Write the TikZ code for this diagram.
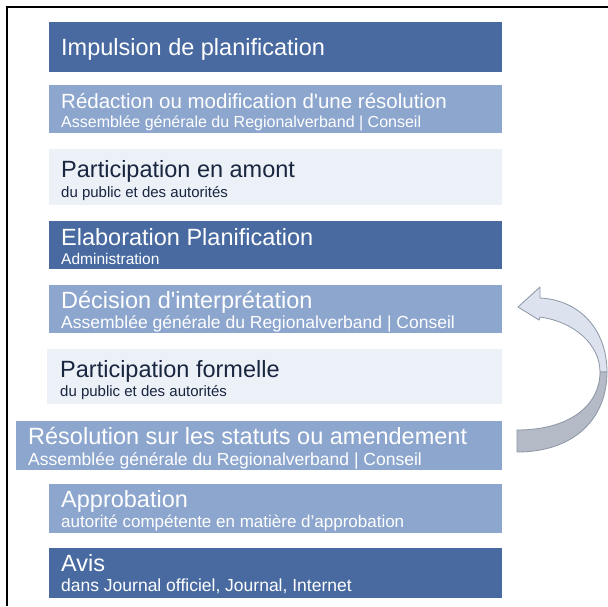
\documentclass[tikz,border=0pt]{standalone}
\usepackage{fontspec}
\setmainfont{Liberation Sans}[Ligatures=TeXOff]
\definecolor{dkblue}{RGB}{72,106,160}
\definecolor{mdblue}{RGB}{141,166,206}
\definecolor{ltblue}{RGB}{236,240,247}
\definecolor{navy}{RGB}{25,38,64}
\definecolor{arrlight}{RGB}{220,227,238}
\definecolor{arrdark}{RGB}{180,186,198}
\definecolor{arredge}{RGB}{140,150,165}
\begin{document}
\begin{tikzpicture}[x=1pt,y=-1pt,
  box/.style={anchor=north west,inner sep=0pt,outer sep=0pt,draw=none},
  dk/.style={box,fill=dkblue},
  md/.style={box,fill=mdblue},
  lt/.style={box,fill=ltblue},
  ttl/.style={anchor=base west,inner sep=0pt,font=\fontsize{23.5}{28}\selectfont},
  sub/.style={anchor=base west,inner sep=0pt,font=\fontsize{17}{20}\selectfont},
  wt/.style={text=white},
  nv/.style={text=navy}]
\useasboundingbox (0,0) rectangle (608,606);
\fill[white] (0,0) rectangle (608,606);
% frame
\draw[line width=2.5pt] (7,606) -- (7,7) -- (608,7);
% boxes
\node[dk,minimum width=453pt,minimum height=50pt] (b1) at (49,22) {};
\node[md,minimum width=453pt,minimum height=48pt] (b2) at (49,85) {};
\node[lt,minimum width=453pt,minimum height=56pt] (b3) at (49,149) {};
\node[dk,minimum width=453pt,minimum height=48pt] (b4) at (49,221) {};
\node[md,minimum width=453pt,minimum height=48pt] (b5) at (49,285) {};
\node[lt,minimum width=455pt,minimum height=55pt] (b6) at (47,349) {};
\node[md,minimum width=486pt,minimum height=49pt] (b7) at (16,421) {};
\node[md,minimum width=453pt,minimum height=49pt] (b8) at (49,484) {};
\node[dk,minimum width=453pt,minimum height=50pt] (b9) at (49,548) {};
% texts
\node[ttl,wt] (t1) at (61,55) {Impulsion de planification};
\node[ttl,wt,font=\fontsize{20.5}{24}\selectfont] (t2) at (61,108) {Rédaction ou modification d'une résolution};
\node[sub,wt,font=\fontsize{16}{19}\selectfont] (s2) at (61,127) {Assemblée générale du Regionalverband | Conseil};
\node[ttl,nv] (t3) at (61,177) {Participation en amont};
\node[sub,nv,font=\fontsize{15}{18}\selectfont] (s3) at (61,197) {du public et des autorités};
\node[ttl,wt] (t4) at (61,245) {Elaboration Planification};
\node[sub,wt,font=\fontsize{15.5}{18}\selectfont] (s4) at (61,264) {Administration};
\node[ttl,wt] (t5) at (61,308) {Décision d'interprétation};
\node[sub,wt,font=\fontsize{17.5}{20}\selectfont] (s5) at (61,328) {Assemblée générale du Regionalverband | Conseil};
\node[ttl,nv] (t6) at (60,377) {Participation formelle};
\node[sub,nv,font=\fontsize{15}{18}\selectfont] (s6) at (60,396) {du public et des autorités};
\node[ttl,wt] (t7) at (28,444) {Résolution sur les statuts ou amendement};
\node[sub,wt,font=\fontsize{17.5}{20}\selectfont] (s7) at (28,465) {Assemblée générale du Regionalverband | Conseil};
\node[ttl,wt] (t8) at (61,507) {Approbation};
\node[sub,wt] (s8) at (61,527) {autorité compétente en matière d’approbation};
\node[ttl,wt] (t9) at (61,571) {Avis};
\node[sub,wt,font=\fontsize{17.5}{20}\selectfont] (s9) at (61,591) {dans Journal officiel, Journal, Internet};
% curved arrow
\coordinate (tip) at (518,307);
\filldraw[fill=arrlight,draw=arredge,line width=0.8pt,line join=round]
  (607,372) .. controls (607,330) and (580,300) .. (540,298)
  -- (540,287) -- (tip) -- (539,320) -- (540,317)
  .. controls (575,322) and (600,345) .. (600,372) -- cycle;
\filldraw[fill=arrdark,draw=arredge,line width=0.8pt,line join=round]
  (517,452) .. controls (575,452) and (607,418) .. (607,372)
  -- (600,372) .. controls (600,405) and (570,430) .. (517,430) -- cycle;
\end{tikzpicture}
\end{document}
